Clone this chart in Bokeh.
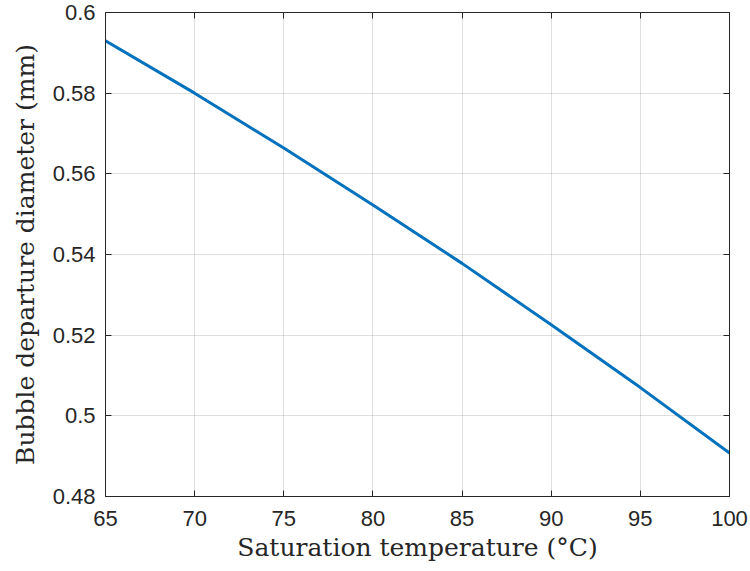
from bokeh.plotting import figure
from bokeh.models import Range1d, LinearAxis, FixedTicker
from bokeh.embed import file_html
from bokeh.resources import INLINE

# Data
temperature = [65, 70, 75, 80, 85, 90, 95, 100]
diameter = [0.5930, 0.5800, 0.5664, 0.5523, 0.5378, 0.5226, 0.5070, 0.4908]

x_ticks = [65, 70, 75, 80, 85, 90, 95, 100]
x_tick_labels = ["65", "70", "75", "80", "85", "90", "95", "100"]
y_ticks = [0.48, 0.5, 0.52, 0.54, 0.56, 0.58, 0.6]
y_tick_labels = ["0.48", "0.5", "0.52", "0.54", "0.56", "0.58", "0.6"]

x_label = "Saturation temperature (°C)"
y_label = "Bubble departure diameter (mm)"

AX = "#262626"
TICK_FONT = "Liberation Sans"
LABEL_FONT = "DejaVu Serif"

p = figure(width=750, height=571, output_backend="svg", toolbar_location=None,
           x_range=Range1d(65, 100), y_range=Range1d(0.48, 0.6),
           min_border_left=105, min_border_right=21, min_border_top=12,
           min_border_bottom=75)
p.outline_line_color = None
p.background_fill_color = "white"
p.border_fill_color = "white"

p.line(temperature, diameter, line_color="#0072BD", line_width=3)

def style(ax, show_labels):
    ax.axis_line_color = AX
    ax.axis_line_width = 1
    ax.major_tick_in = 6
    ax.major_tick_out = 0
    ax.minor_tick_in = 0
    ax.minor_tick_out = 0
    ax.major_tick_line_color = AX
    ax.major_label_text_font = TICK_FONT
    ax.major_label_text_font_size = "22px"
    ax.major_label_text_color = AX if show_labels else None
    ax.axis_label_text_font = LABEL_FONT
    ax.axis_label_text_font_size = "25px"
    ax.axis_label_text_font_style = "normal"
    ax.axis_label_text_color = AX

xt = FixedTicker(ticks=x_ticks)
yt = FixedTicker(ticks=y_ticks)
xo = {t: l for t, l in zip(x_ticks, x_tick_labels)}
yo = {t: l for t, l in zip(y_ticks, y_tick_labels)}

p.xaxis.ticker = xt
p.yaxis.ticker = yt
p.xaxis.major_label_overrides = xo
p.yaxis.major_label_overrides = yo
p.xaxis.axis_label = x_label
p.yaxis.axis_label = y_label
style(p.xaxis[0], True)
style(p.yaxis[0], True)
p.xaxis.major_label_standoff = 14
p.yaxis.major_label_standoff = 10
p.xaxis.axis_label_standoff = 4
p.yaxis.axis_label_standoff = 10

top = LinearAxis(ticker=FixedTicker(ticks=x_ticks))
right = LinearAxis(ticker=FixedTicker(ticks=y_ticks))
style(top, False)
style(right, False)
top.major_label_text_font_size = "0px"
right.major_label_text_font_size = "0px"
top.major_label_standoff = 0
right.major_label_standoff = 0
p.add_layout(top, "above")
p.add_layout(right, "right")

p.xgrid.ticker = xt
p.ygrid.ticker = yt
p.grid.grid_line_color = AX
p.grid.grid_line_alpha = 0.15
p.grid.grid_line_width = 1

open("out.html", "w").write(file_html(p, INLINE))
